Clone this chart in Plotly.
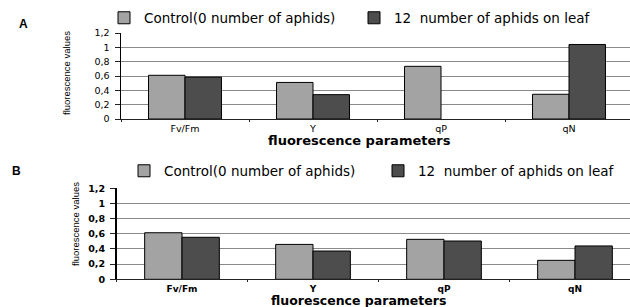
import plotly.graph_objects as go

W, H = 630, 307

categories = ["Fv/Fm", "Y", "qP", "qN"]
series_names = ["Control(0 number of aphids)", "12\u00a0 number of aphids on leaf"]
a_control = [0.61, 0.51, 0.735, 0.345]
a_aphids = [0.585, 0.34, None, 1.04]
b_control = [0.614, 0.46, 0.527, 0.25]
b_aphids = [0.554, 0.373, 0.505, 0.44]
y_ticks = [0, 0.2, 0.4, 0.6, 0.8, 1.0, 1.2]

c_light = "#a3a3a3"
c_dark = "#4d4d4d"

def px_x(p):
    return p / W

def px_y(p):
    return 1 - p / H

fig = go.Figure()

for vals, name, col in [(a_control, series_names[0], c_light),
                        (a_aphids, series_names[1], c_dark)]:
    fig.add_trace(go.Bar(x=categories, y=vals, name=name, marker=dict(color=col, line=dict(color="black", width=1)),
                         xaxis="x", yaxis="y", legend="legend"))
for vals, name, col in [(b_control, series_names[0], c_light),
                        (b_aphids, series_names[1], c_dark)]:
    fig.add_trace(go.Bar(x=categories, y=vals, name=name, marker=dict(color=col, line=dict(color="black", width=1)),
                         xaxis="x2", yaxis="y2", legend="legend2"))

FONT = "DejaVu Sans, Verdana, sans-serif"

def xaxis(domain, rng, bold, anchor, size):
    return dict(domain=domain, range=rng, anchor=anchor, type="category",
                showline=True, linecolor="#222", linewidth=1,
                ticks="outside", tickson="boundaries", ticklen=2, tickcolor="#222",
                ticklabelstandoff=1,
                tickfont=dict(family=FONT, size=size, color="black", weight="bold" if bold else "normal"),
                showgrid=False, zeroline=False, fixedrange=True)

def yaxis(domain, bold, anchor):
    return dict(domain=domain, range=[0, 1.2001], anchor=anchor, tickvals=y_ticks,
                showline=True, linecolor="black", linewidth=1.5,
                ticks="outside", ticklen=5, tickcolor="#222", ticklabelstandoff=3,
                tickfont=dict(family=FONT, size=9.5, color="black", weight="bold" if bold else "normal"),
                showgrid=True, gridcolor="#8a8a8a", gridwidth=1, zeroline=False, fixedrange=True)

fig.update_layout(
    width=W, height=H,
    margin=dict(l=0, r=0, t=0, b=0, autoexpand=False),
    paper_bgcolor="white", plot_bgcolor="white",
    separators=", ",
    barmode="group", bargap=0.43, bargroupgap=0,
    xaxis=xaxis([px_x(121), 1], [-0.5, (630 - 121) / 128 - 0.5], False, "y", 9.5),
    yaxis=yaxis([px_y(119), px_y(33)], False, "x"),
    xaxis2=xaxis([px_x(116.5), 1], [-0.5, (630 - 116.5) / 131 - 0.5], True, "y2", 9),
    yaxis2=yaxis([px_y(279.3), px_y(188.3)], True, "x2"),
    legend=dict(orientation="h", x=px_x(104), y=px_y(18), xanchor="left", yanchor="middle",
                font=dict(family=FONT, size=13.5, color="black"), bgcolor="rgba(0,0,0,0)",
                entrywidth=205, entrywidthmode="pixels", itemwidth=30),
    legend2=dict(orientation="h", x=px_x(124), y=px_y(171), xanchor="left", yanchor="middle",
                 font=dict(family=FONT, size=13.5, color="black"), bgcolor="rgba(0,0,0,0)",
                 entrywidth=209, entrywidthmode="pixels", itemwidth=30),
    showlegend=True,
)

annots = [
    dict(text="<b>A</b>", x=px_x(23), y=px_y(24), size=12, family="Liberation Sans, Arial, sans-serif", angle=0),
    dict(text="<b>B</b>", x=px_x(16), y=px_y(171), size=12, family="Liberation Sans, Arial, sans-serif", angle=0),
    dict(text="<b>fluorescence parameters</b>", x=px_x(359), y=px_y(140), size=13, family=FONT, angle=0),
    dict(text="<b>fluorescence parameters</b>", x=px_x(358), y=px_y(300), size=12.5, family=FONT, angle=0),
    dict(text="fluorescence values", x=px_x(66), y=px_y(73), size=9.5,
         family="Liberation Sans Narrow, Arial Narrow, sans-serif", angle=-90),
    dict(text="fluorescence values", x=px_x(75), y=px_y(224), size=9.5,
         family="Liberation Sans Narrow, Arial Narrow, sans-serif", angle=-90),
]
for a in annots:
    fig.add_annotation(text=a["text"], x=a["x"], y=a["y"], xref="paper", yref="paper",
                       xanchor="center", yanchor="middle", showarrow=False, textangle=a["angle"],
                       font=dict(family=a["family"], size=a["size"], color="black"))

fig.write_html("out.html", config={"displayModeBar": False, "staticPlot": True},
               post_script="document.body.style.margin='0px';document.body.style.overflow='hidden';")
